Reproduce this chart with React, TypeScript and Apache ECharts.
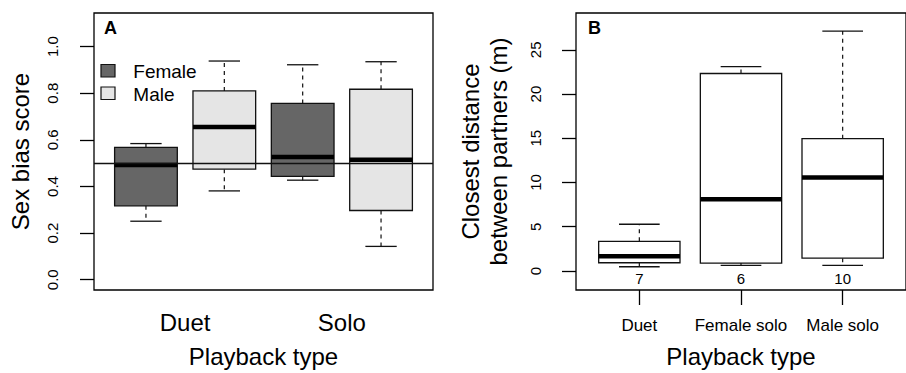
import React, { useEffect, useRef } from "react";
import * as echarts from "echarts";

// ---------- Panel A data (sex bias score) ----------
const aGroupLabels = ["Duet", "Solo"];
const aGroupPos = [1.5, 3.5];
const aTicks = [0, 0.2, 0.4, 0.6, 0.8, 1.0];
// Female boxes at positions 1 (Duet) and 3 (Solo)
const femalePos = [1, 3];
const femaleLow = [0.251, 0.427];
const femaleQ1 = [0.317, 0.443];
const femaleMed = [0.492, 0.526];
const femaleQ3 = [0.568, 0.756];
const femaleHigh = [0.584, 0.922];
// Male boxes at positions 2 (Duet) and 4 (Solo)
const malePos = [2, 4];
const maleLow = [0.381, 0.143];
const maleQ1 = [0.474, 0.297];
const maleMed = [0.655, 0.515];
const maleQ3 = [0.81, 0.817];
const maleHigh = [0.938, 0.935];
const refLine = 0.5;

// ---------- Panel B data (closest distance) ----------
const bCats = ["Duet", "Female solo", "Male solo"];
const bPos = [1, 2, 3];
const bTicks = [0, 5, 10, 15, 20, 25];
const bLow = [0.48, 0.63, 0.63];
const bQ1 = [0.93, 0.89, 1.45];
const bMed = [1.67, 8.11, 10.57];
const bQ3 = [3.35, 22.32, 14.96];
const bHigh = [5.28, 23.1, 27.12];
const bN = ["7", "6", "10"];

const FONT = "'Liberation Sans', Arial, Helvetica, sans-serif";
const BOX_W = 0.8;
const N_LABEL_Y = -0.86;

function makeRows(pos: number[], lo: number[], q1: number[], md: number[], q3: number[], hi: number[]) {
  return pos.map((p, i) => [p, lo[i], q1[i], md[i], q3[i], hi[i], i]);
}

function boxRenderer(fill: string, labels?: string[]) {
  return (params: any, api: any) => {
    const x = api.value(0);
    const c = (v: number) => api.coord([x, v]);
    const cx = c(api.value(1))[0];
    const yLow = c(api.value(1))[1];
    const yQ1 = c(api.value(2))[1];
    const yMed = c(api.value(3))[1];
    const yQ3 = c(api.value(4))[1];
    const yHigh = c(api.value(5))[1];
    const w = api.size([BOX_W, 0])[0];
    const half = w / 2;
    const cap = w / 4;
    const dash = { stroke: "#111", lineWidth: 1.2, lineDash: [4, 4] };
    const solid = { stroke: "#111", lineWidth: 1.3 };
    const children: any[] = [
      { type: "line", shape: { x1: cx, y1: yQ3, x2: cx, y2: yHigh }, style: dash },
      { type: "line", shape: { x1: cx, y1: yQ1, x2: cx, y2: yLow }, style: dash },
      { type: "line", shape: { x1: cx - cap, y1: yHigh, x2: cx + cap, y2: yHigh }, style: solid },
      { type: "line", shape: { x1: cx - cap, y1: yLow, x2: cx + cap, y2: yLow }, style: solid },
      {
        type: "rect",
        shape: { x: cx - half, y: yQ3, width: w, height: yQ1 - yQ3 },
        style: { fill, stroke: "#111", lineWidth: 1.3 },
      },
      {
        type: "line",
        shape: { x1: cx - half, y1: yMed, x2: cx + half, y2: yMed },
        style: { stroke: "#000", lineWidth: 4.5 },
      },
    ];
    if (labels) {
      const idx = api.value(6);
      const yN = c(N_LABEL_Y)[1];
      children.push({
        type: "text",
        x: cx,
        y: yN,
        style: {
          text: labels[idx],
          fontSize: 15,
          fontFamily: FONT,
          fill: "#000",
          align: "center",
          verticalAlign: "middle",
        },
      });
    }
    return { type: "group", children };
  };
}

export default function App() {
  const ref = useRef<HTMLDivElement>(null);
  useEffect(() => {
    if (!ref.current) return;
    const chart = echarts.init(ref.current, undefined, { renderer: "svg" });
    const tickLabel = { color: "#000", fontSize: 15, fontFamily: FONT, align: "center", verticalAlign: "middle" };
    const option: any = {
      animation: false,
      backgroundColor: "#fff",
      textStyle: { fontFamily: FONT, color: "#000" },
      grid: [
        { left: 94, top: 13, width: 339, height: 280, show: true, borderColor: "#000", borderWidth: 1.3, backgroundColor: "transparent" },
        { left: 576, top: 13, width: 338, height: 280, show: true, borderColor: "#000", borderWidth: 1.3, backgroundColor: "transparent" },
      ],
      xAxis: [
        {
          type: "value",
          gridIndex: 0,
          min: 0.337,
          max: 4.663,
          axisLine: { show: false, onZero: false },
          axisTick: { show: false },
          splitLine: { show: false },
          axisLabel: {
            customValues: aGroupPos,
            formatter: (v: number) => aGroupLabels[aGroupPos.indexOf(v)] ?? "",
            color: "#000",
            fontSize: 24,
            fontFamily: FONT,
            margin: 20,
          },
          name: "Playback type",
          nameLocation: "middle",
          nameGap: 54,
          nameTextStyle: { color: "#000", fontSize: 24, fontFamily: FONT },
        },
        {
          type: "value",
          gridIndex: 1,
          min: 0.377,
          max: 3.623,
          axisLine: { show: false, onZero: false },
          axisTick: { show: true, customValues: bPos, length: 15, lineStyle: { color: "#000", width: 1.3 } },
          splitLine: { show: false },
          axisLabel: {
            customValues: bPos,
            formatter: (v: number) => bCats[Math.round(v) - 1] ?? "",
            color: "#000",
            fontSize: 17,
            fontFamily: FONT,
            margin: 27,
          },
          name: "Playback type",
          nameLocation: "middle",
          nameGap: 54,
          nameTextStyle: { color: "#000", fontSize: 24, fontFamily: FONT },
        },
      ],
      yAxis: [
        {
          type: "value",
          gridIndex: 0,
          min: -0.044,
          max: 1.144,
          axisLine: { show: false, onZero: false },
          splitLine: { show: false },
          axisTick: { show: true, customValues: aTicks, length: 14, lineStyle: { color: "#000", width: 1.3 } },
          axisLabel: { ...tickLabel, customValues: aTicks, rotate: 90, margin: 42, formatter: (v: number) => v.toFixed(1) },
          name: "Sex bias score",
          nameLocation: "middle",
          nameGap: 62,
          nameTextStyle: { color: "#000", fontSize: 24, fontFamily: FONT },
        },
        {
          type: "value",
          gridIndex: 1,
          min: -2.15,
          max: 29.16,
          axisLine: { show: false, onZero: false },
          splitLine: { show: false },
          axisTick: { show: true, customValues: bTicks, length: 14, lineStyle: { color: "#000", width: 1.3 } },
          axisLabel: { ...tickLabel, customValues: bTicks, rotate: 90, margin: 41, formatter: (v: number) => String(v) },
          name: "Closest distance\nbetween partners (m)",
          nameLocation: "middle",
          nameGap: 64,
          nameTextStyle: { color: "#000", fontSize: 24, fontFamily: FONT, lineHeight: 28 },
        },
      ],
      series: [
        {
          type: "custom",
          name: "Female",
          xAxisIndex: 0,
          yAxisIndex: 0,
          renderItem: boxRenderer("#666666"),
          encode: { x: 0, y: [1, 2, 3, 4, 5] },
          data: makeRows(femalePos, femaleLow, femaleQ1, femaleMed, femaleQ3, femaleHigh),
          z: 2,
        },
        {
          type: "custom",
          name: "Male",
          xAxisIndex: 0,
          yAxisIndex: 0,
          renderItem: boxRenderer("#e5e5e5"),
          encode: { x: 0, y: [1, 2, 3, 4, 5] },
          data: makeRows(malePos, maleLow, maleQ1, maleMed, maleQ3, maleHigh),
          z: 2,
        },
        {
          type: "line",
          xAxisIndex: 0,
          yAxisIndex: 0,
          data: [],
          z: 10,
          markLine: {
            silent: true,
            symbol: "none",
            label: { show: false },
            lineStyle: { color: "#111", width: 1.3, type: "solid" },
            data: [{ yAxis: refLine }],
          },
        },
        {
          type: "custom",
          name: "Distance",
          xAxisIndex: 1,
          yAxisIndex: 1,
          renderItem: boxRenderer("#ffffff", bN),
          encode: { x: 0, y: [1, 2, 3, 4, 5] },
          data: makeRows(bPos, bLow, bQ1, bMed, bQ3, bHigh),
          z: 2,
        },
      ],
      graphic: [
        { type: "text", x: 104, y: 28, style: { text: "A", fontSize: 18, fontWeight: "bold", fontFamily: FONT, fill: "#000", verticalAlign: "middle" } },
        { type: "text", x: 588, y: 28, style: { text: "B", fontSize: 18, fontWeight: "bold", fontFamily: FONT, fill: "#000", verticalAlign: "middle" } },
        { type: "rect", shape: { x: 101, y: 64.5, width: 14, height: 12.5 }, style: { fill: "#666666", stroke: "#111", lineWidth: 1.2 } },
        { type: "rect", shape: { x: 101, y: 87, width: 14, height: 12.5 }, style: { fill: "#e5e5e5", stroke: "#111", lineWidth: 1.2 } },
        { type: "text", x: 133.3, y: 71, style: { text: "Female", fontSize: 19, fontFamily: FONT, fill: "#000", verticalAlign: "middle" } },
        { type: "text", x: 133.3, y: 94, style: { text: "Male", fontSize: 19, fontFamily: FONT, fill: "#000", verticalAlign: "middle" } },
      ],
    };
    chart.setOption(option);
    return () => chart.dispose();
  }, []);
  return <div ref={ref} style={{ position: "absolute", left: 0, top: 0, width: 906, height: 373 }} />;
}
